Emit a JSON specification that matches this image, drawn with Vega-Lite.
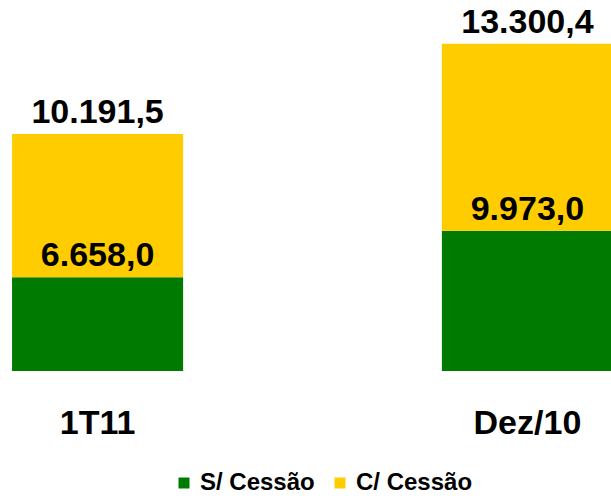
{
  "$schema": "https://vega.github.io/schema/vega-lite/v6.json",
  "width": 611,
  "height": 371,
  "autosize": {"type": "none"},
  "padding": {"left": 0, "top": 0, "right": 0, "bottom": 127},
  "background": "white",
  "config": {
    "view": {"stroke": null},
    "font": "Liberation Sans",
    "locale": {"number": {"decimal": ",", "thousands": ".", "grouping": [3], "currency": ["R$ ", ""]}}
  },
  "data": {
    "values": [
      {"periodo": "1T11", "serie": "S/ Cessão", "valor": 6658.0},
      {"periodo": "1T11", "serie": "C/ Cessão", "valor": 10191.5},
      {"periodo": "Dez/10", "serie": "S/ Cessão", "valor": 9973.0},
      {"periodo": "Dez/10", "serie": "C/ Cessão", "valor": 13300.4}
    ]
  },
  "encoding": {
    "x": {
      "field": "periodo",
      "type": "nominal",
      "sort": ["1T11", "Dez/10"],
      "scale": {"range": [0, 625], "paddingInner": 0.602, "paddingOuter": 0.028},
      "axis": {
        "title": null,
        "domain": false,
        "ticks": false,
        "labelAngle": 0,
        "labelFontSize": 34,
        "labelFontWeight": "bold",
        "labelColor": "#000000",
        "labelPadding": 35,
        "labelFont": "Liberation Sans"
      }
    },
    "y": {
      "field": "valor",
      "type": "quantitative",
      "stack": "zero",
      "scale": {"domain": [0, 26376], "nice": false, "zero": true},
      "axis": null
    },
    "order": {"field": "serie", "sort": "descending"}
  },
  "layer": [
    {
      "mark": {"type": "bar"},
      "encoding": {
        "color": {
          "field": "serie",
          "type": "nominal",
          "scale": {"domain": ["S/ Cessão", "C/ Cessão"], "range": ["#007A00", "#FFCC00"]},
          "legend": {
            "title": null,
            "orient": "none",
            "direction": "horizontal",
            "legendX": 172,
            "legendY": 471,
            "symbolType": "square",
            "symbolSize": 121,
            "symbolStrokeWidth": 0,
            "labelFontSize": 24,
            "labelFontWeight": "bold",
            "labelColor": "#000000",
            "labelOffset": 4,
            "columnPadding": 13,
            "labelFont": "Liberation Sans"
          }
        }
      }
    },
    {
      "mark": {"type": "text", "baseline": "bottom", "dy": -4, "fontSize": 34, "fontWeight": "bold", "color": "#000000", "font": "Liberation Sans"},
      "encoding": {
        "text": {"field": "valor", "type": "quantitative", "format": ",.1f"}
      }
    }
  ]
}
